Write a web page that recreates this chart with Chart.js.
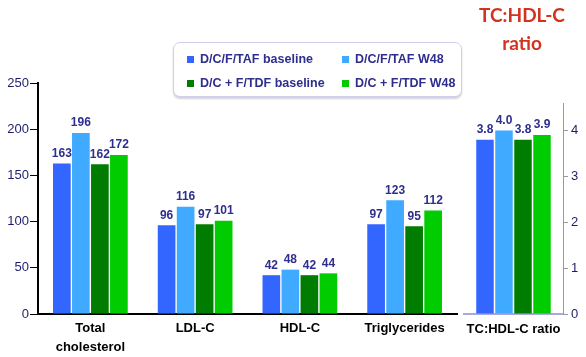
<!DOCTYPE html>
<html>
<head>
<meta charset="utf-8">
<script src="https://cdn.jsdelivr.net/npm/chart.js@4/dist/chart.umd.min.js"></script>
<style>
  html,body{margin:0;padding:0;background:#fff;}
  #wrap{position:relative;width:586px;height:357px;overflow:hidden;font-family:"Liberation Sans",Arial,sans-serif;}
  canvas{position:absolute;left:0;top:0;}
  #legend{position:absolute;left:173px;top:42px;width:287px;height:53px;border:1px solid #cfcff0;border-radius:7px;box-shadow:0 2px 2px rgba(0,0,0,0.18);background:#fff;}
  .li{position:absolute;font-weight:bold;font-size:12.5px;color:#2E2E8F;white-space:nowrap;line-height:14px;}
  .sw{position:absolute;width:7px;height:7px;}
  #title{position:absolute;left:462px;top:1px;width:120px;text-align:center;font-family:Lato,"Liberation Sans",sans-serif;font-weight:bold;font-size:19px;line-height:28px;color:#D2321E;}
</style>
</head>
<body>
<div id="wrap">
  <canvas id="c1" width="586" height="357"></canvas>
  <canvas id="c2" width="586" height="357"></canvas>
  <div id="legend"></div>
  <div id="title">TC:HDL-C<br>ratio</div>
</div>
<script>
const categories = [["Total","cholesterol"], "LDL-C", "HDL-C", "Triglycerides"];
const ratioCategory = ["TC:HDL-C ratio"];
const seriesNames = ["D/C/F/TAF baseline", "D/C/F/TAF W48", "D/C + F/TDF baseline", "D/C + F/TDF W48"];
const seriesColors = ["#3366FF", "#3FAAFF", "#007D00", "#00CC00"];
const tafBaseline = [163, 96, 42, 97];
const tafW48 = [196, 116, 48, 123];
const tdfBaseline = [162, 97, 42, 95];
const tdfW48 = [172, 101, 44, 112];
const ratioValues = [[3.8], [4.0], [3.8], [3.9]];
const leftTicks = [0, 50, 100, 150, 200, 250];
const rightTicks = [0, 1, 2, 3, 4];

Chart.defaults.font.family = '"Liberation Sans", Arial, sans-serif';
Chart.defaults.animation = false;

const labelColor = '#2E2E8F';
const tickColor = '#1C1C6B';

function valueLabels(decimals) {
  return {
    id: 'valueLabels' + decimals,
    afterDatasetsDraw(chart) {
      const ctx = chart.ctx;
      ctx.save();
      ctx.font = 'bold 12px "Liberation Sans", Arial, sans-serif';
      ctx.fillStyle = labelColor;
      ctx.textAlign = 'center';
      ctx.textBaseline = 'bottom';
      chart.data.datasets.forEach((ds, i) => {
        chart.getDatasetMeta(i).data.forEach((el, j) => {
          const v = ds.data[j];
          ctx.fillText(decimals ? v.toFixed(decimals) : String(v), el.x, el.y - 4);
        });
      });
      ctx.restore();
    }
  };
}

const leftSeries = [tafBaseline, tafW48, tdfBaseline, tdfW48];

new Chart(document.getElementById('c1'), {
  type: 'bar',
  data: {
    labels: categories,
    datasets: leftSeries.map((d, i) => ({
      label: seriesNames[i], data: d, backgroundColor: seriesColors[i],
      categoryPercentage: 0.726, barPercentage: 0.93
    }))
  },
  options: {
    responsive: false,
    devicePixelRatio: 1,
    layout: { padding: { top: 83, right: 129, left: 0, bottom: 0 } },
    plugins: { legend: { display: false }, tooltip: { enabled: false } },
    scales: {
      x: {
        grid: { display: false },
        border: { display: true, color: '#000', width: 2 },
        ticks: { color: '#000', padding: -3, font: { size: 13, weight: 'bold', lineHeight: 1.45 }, maxRotation: 0, autoSkip: false },
        afterFit(s) { s.height = 43; }
      },
      y: {
        min: 0, max: 250,
        afterBuildTicks(s) { s.ticks = leftTicks.map(v => ({ value: v })); },
        grid: { drawOnChartArea: false, drawTicks: true, tickLength: 8, color: '#000' },
        border: { display: true, color: '#000', width: 2 },
        ticks: { color: tickColor, padding: 1, font: { size: 13 } },
        afterFit(s) { s.width = 38; }
      }
    }
  },
  plugins: [valueLabels(0)]
});

new Chart(document.getElementById('c2'), {
  type: 'bar',
  data: {
    labels: ratioCategory,
    datasets: ratioValues.map((d, i) => ({
      label: seriesNames[i], data: d, backgroundColor: seriesColors[i],
      categoryPercentage: 0.768, barPercentage: 0.92
    }))
  },
  options: {
    responsive: false,
    devicePixelRatio: 1,
    layout: { padding: { top: 103, left: 464, right: 0, bottom: 0 } },
    plugins: { legend: { display: false }, tooltip: { enabled: false } },
    scales: {
      x: {
        grid: { display: false },
        border: { display: true, color: '#A8A8E0', width: 2 },
        ticks: { color: '#000', padding: -2, font: { size: 13, weight: 'bold', lineHeight: 1.45 }, maxRotation: 0 },
        afterFit(s) { s.height = 43; }
      },
      y: {
        position: 'right',
        min: 0, max: 4.6,
        afterBuildTicks(s) { s.ticks = rightTicks.map(v => ({ value: v })); },
        grid: { drawOnChartArea: false, drawTicks: true, tickLength: 5, color: '#999' },
        border: { display: true, color: '#999', width: 1 },
        ticks: { color: tickColor, padding: 3, font: { size: 13 } },
        afterFit(s) { s.width = 23; }
      }
    }
  },
  plugins: [valueLabels(1)]
});

// legend from series arrays
const legend = document.getElementById('legend');
const pos = [[13, 10], [168, 10], [13, 34], [168, 34]];
seriesNames.forEach((name, i) => {
  const sw = document.createElement('div');
  sw.className = 'sw';
  sw.style.background = seriesColors[i];
  sw.style.left = pos[i][0] + 'px';
  sw.style.top = (pos[i][1] + 3) + 'px';
  legend.appendChild(sw);
  const t = document.createElement('div');
  t.className = 'li';
  t.textContent = name;
  t.style.left = (pos[i][0] + 13) + 'px';
  t.style.top = (pos[i][1] - 1) + 'px';
  legend.appendChild(t);
});
</script>
</body>
</html>
